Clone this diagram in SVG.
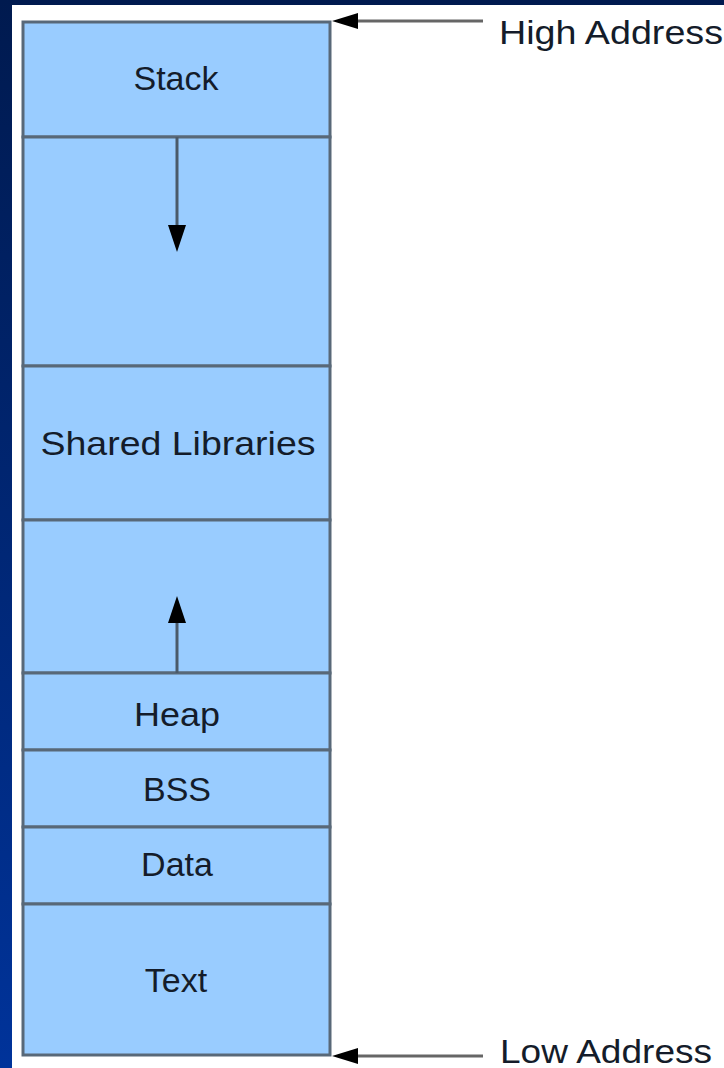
<svg xmlns="http://www.w3.org/2000/svg" width="724" height="1068" viewBox="0 0 724 1068">
<defs>
<linearGradient id="bg" x1="0" y1="0" x2="0" y2="1">
<stop offset="0" stop-color="#001a4f"/>
<stop offset="1" stop-color="#00339a"/>
</linearGradient>
<style>
.seg{fill:#99ccff;stroke:#586878;stroke-width:3}
.lbl{font-family:"Liberation Sans",Arial,sans-serif;font-size:34px;fill:#141c2a;text-anchor:middle}
.addr{font-family:"Liberation Sans",Arial,sans-serif;font-size:34px;fill:#141c2a}
.ln{stroke:#4a5a6a;stroke-width:3;fill:none}
.aln{stroke:#666;stroke-width:3;fill:none}
.head{fill:#000}
</style>
</defs>
<rect x="0" y="0" width="724" height="1068" fill="url(#bg)"/>
<rect x="12" y="5" width="712" height="1063" fill="#ffffff"/>
<g id="stack"><rect class="seg" x="23" y="22" width="307" height="115"/><text class="lbl" x="176" y="90">Stack</text></g>
<g id="gap-top"><rect class="seg" x="23" y="137" width="307" height="229"/></g>
<g id="shared"><rect class="seg" x="23" y="366" width="307" height="154"/><text class="lbl" x="178" y="455" textLength="275" lengthAdjust="spacingAndGlyphs">Shared Libraries</text></g>
<g id="gap-bottom"><rect class="seg" x="23" y="520" width="307" height="153"/></g>
<g id="heap"><rect class="seg" x="23" y="673" width="307" height="77"/><text class="lbl" x="177" y="726" textLength="86" lengthAdjust="spacingAndGlyphs">Heap</text></g>
<g id="bss"><rect class="seg" x="23" y="750" width="307" height="77"/><text class="lbl" x="177" y="801">BSS</text></g>
<g id="data"><rect class="seg" x="23" y="827" width="307" height="77"/><text class="lbl" x="177" y="876">Data</text></g>
<g id="text"><rect class="seg" x="23" y="904" width="307" height="151"/><text class="lbl" x="176" y="992">Text</text></g>
<g id="high"><text class="addr" x="499" y="44" textLength="224" lengthAdjust="spacingAndGlyphs">High Address</text></g>
<g id="low"><text class="addr" x="500" y="1063" textLength="212" lengthAdjust="spacingAndGlyphs">Low Address</text></g>
<g id="connectors">
<line class="ln" x1="177" y1="137" x2="177" y2="228"/>
<polygon class="head" points="168,225 186,225 177,252"/>
<line class="ln" x1="177" y1="673" x2="177" y2="620"/>
<polygon class="head" points="168,623 186,623 177,596"/>
<line class="aln" x1="355" y1="21" x2="483" y2="21"/>
<polygon class="head" points="332,21 358,13 358,29"/>
<line class="aln" x1="355" y1="1056" x2="483" y2="1056"/>
<polygon class="head" points="332,1056 358,1048 358,1064"/>
</g>
</svg>
